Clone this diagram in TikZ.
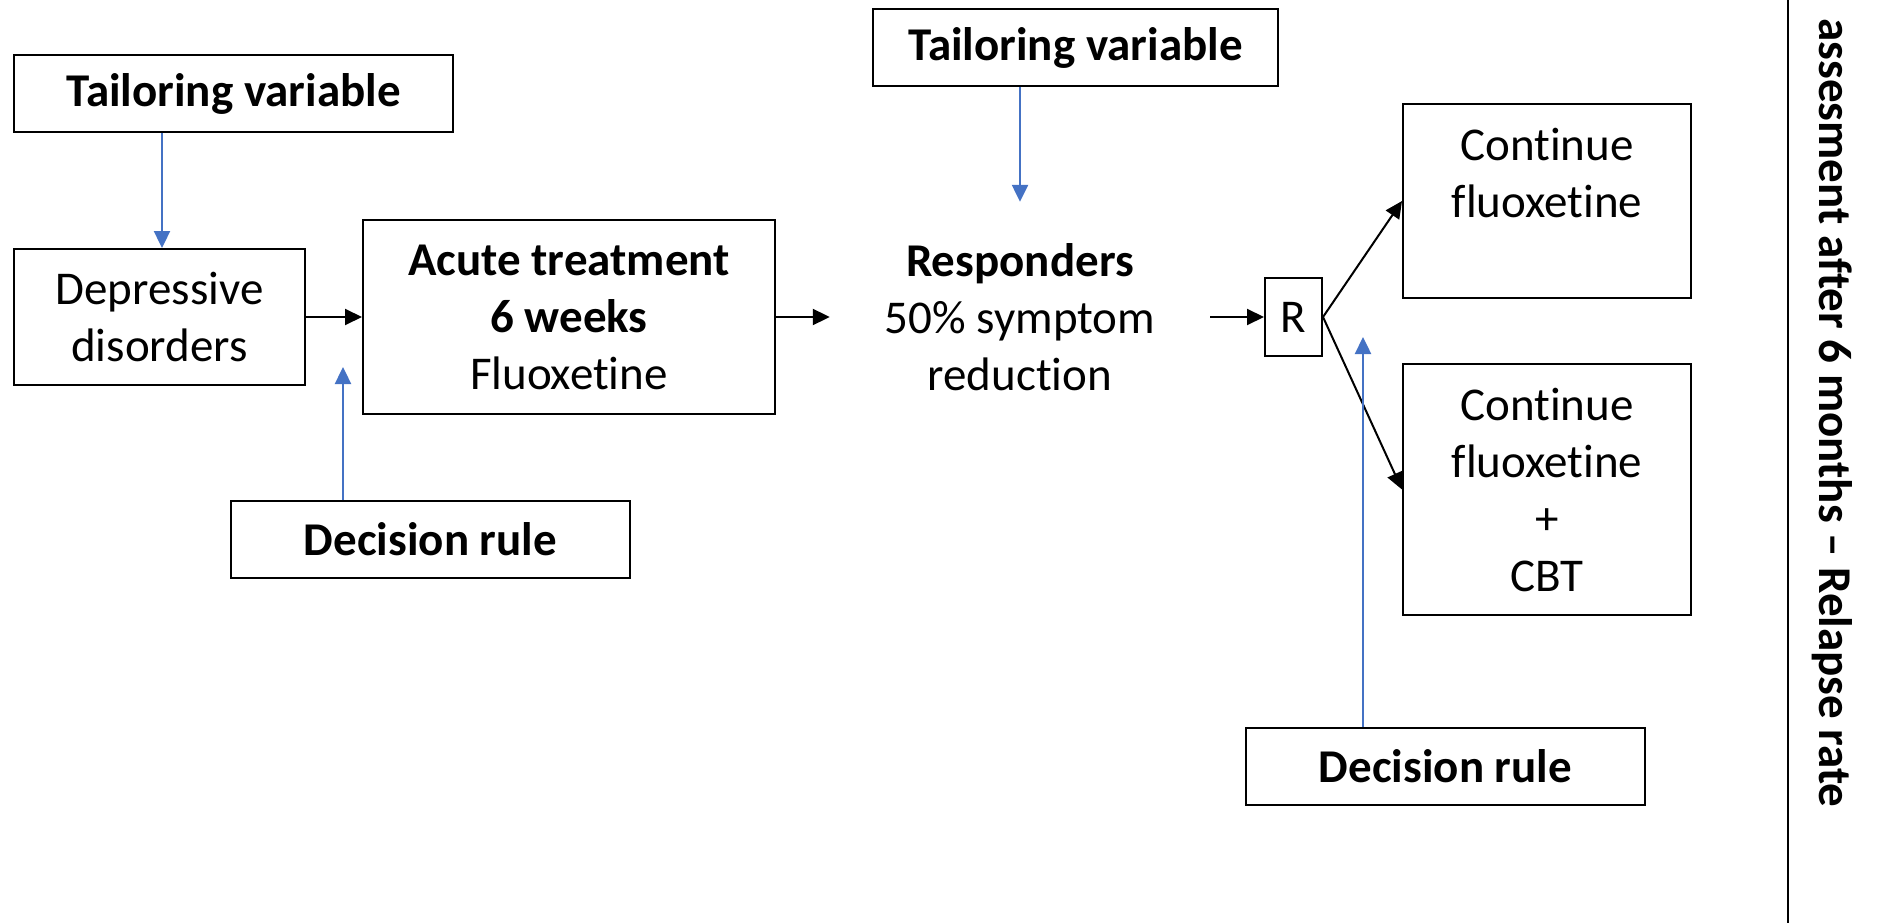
\documentclass[tikz,border=0pt]{standalone}
\usepackage{fontspec}
\setmainfont{Carlito}[Ligatures={TeX,NoCommon}]
\usetikzlibrary{arrows.meta}
\definecolor{linkblue}{HTML}{4472C4}
\begin{document}
\begin{tikzpicture}[x=1pt,y=-1pt,
  every node/.style={font=\fontsize{47}{57}\selectfont, align=center, inner sep=0pt},
  box/.style={draw, line width=2pt, minimum width=#1},
  heading/.style={font=\fontsize{47}{57}\selectfont\bfseries},
  flow/.style={line width=2pt, -{Triangle[length=17pt,width=16pt]}},
  cue/.style={line width=2.4pt, draw=linkblue, -{Triangle[length=17pt,width=16pt,fill=linkblue]}}]
\useasboundingbox (0,0) rectangle (1877,923);

% main pathway
\node[box=291, minimum height=136] (dep) at (159.5,317) {Depressive\\disorders};
\node[box=412, minimum height=194] (acute) at (569,317) {\textbf{Acute treatment}\\\textbf{6 weeks}\\Fluoxetine};
\node[minimum width=380, minimum height=230] (resp) at (1020,317) {\textbf{Responders}\\50\% symptom\\reduction};
\node[box=57, minimum height=78] (rand) at (1293.5,317) {R};
\node[box=288, minimum height=193] (cont) at (1547,201) {Continue\\fluoxetine\\\mbox{}};
\node[box=288, minimum height=251] (cbt) at (1547,489.5) {Continue\\fluoxetine\\+\\CBT};

% tailoring variables and decision rules
\node[box=439, minimum height=77, heading] (tv1) at (233.5,93.5) {Tailoring variable};
\node[box=405, minimum height=77, heading] (tv2) at (1075.5,47.5) {Tailoring variable};
\node[box=399, minimum height=77, heading] (dr1) at (430.5,539.5) {Decision rule};
\node[box=399, minimum height=77, heading] (dr2) at (1445.5,766.5) {Decision rule};
\coordinate (tip1) at (343,367);
\coordinate (tip2) at (1363,337);

% outcome column
\coordinate (ltop) at (1788,0);
\coordinate (lbot) at (1788,923);
\draw[line width=2pt] (ltop) -- (lbot);
\node[rotate=-90, heading] (outcome) at (1832,413) {assesment after 6 months -- Relapse rate};

% connectors
\draw[flow] (dep) -- (acute);
\draw[flow] (acute) -- (resp);
\draw[flow] (resp) -- (rand);
\draw[flow] (rand.east) -- (cont.west);
\draw[flow] (rand.east) -- (cbt.west);

\draw[cue] (tv1.south -| 162,0) -- (dep.north -| 162,0);
\draw[cue] (dr1.north -| tip1) -- (tip1);
\draw[cue] (tv2.south -| resp.north) -- (resp.north);
\draw[cue] (dr2.north -| tip2) -- (tip2);
\end{tikzpicture}
\end{document}
